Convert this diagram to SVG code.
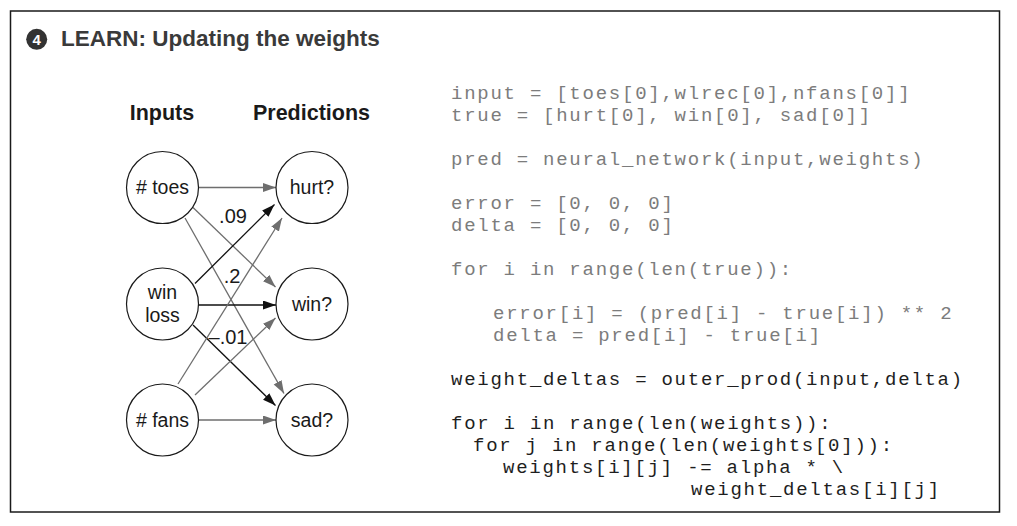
<svg xmlns="http://www.w3.org/2000/svg" width="1017" height="526" viewBox="0 0 1017 526">
<defs>
<style>
.frame{fill:#fff;stroke:#1a1a1a;stroke-width:1.5}
.title{font-family:"Liberation Sans",Arial,sans-serif;font-weight:bold;font-size:22.5px;fill:#3a3a3a}
.head{font-family:"Liberation Sans",Arial,sans-serif;font-weight:bold;font-size:21.5px;fill:#1a1a1a}
.node circle{fill:#fff;stroke:#1a1a1a;stroke-width:1.2}
.node text{font-family:"Liberation Sans",Arial,sans-serif;font-size:19.5px;fill:#1a1a1a;text-anchor:middle}
.wt{font-family:"Liberation Sans",Arial,sans-serif;font-size:20px;fill:#1a1a1a;text-anchor:middle}
.g{stroke:#6e6e6e;stroke-width:1.3;fill:none;marker-end:url(#ag)}
.k{stroke:#111;stroke-width:1.3;fill:none;marker-end:url(#ak)}
.code{font-family:"Liberation Mono","Courier New",monospace;font-size:19px;letter-spacing:1.75px;white-space:pre}
.dim{fill:#7c7c7c}
.dark{fill:#1e1e1e}
</style>
<marker id="ag" markerUnits="userSpaceOnUse" markerWidth="14" markerHeight="10" refX="13" refY="4.5" orient="auto"><path d="M0,0 L13,4.5 L0,9 z" fill="#6e6e6e"/></marker>
<marker id="ak" markerUnits="userSpaceOnUse" markerWidth="14" markerHeight="10" refX="13" refY="4.5" orient="auto"><path d="M0,0 L13,4.5 L0,9 z" fill="#111"/></marker>
</defs>
<rect x="0" y="0" width="1017" height="526" fill="#fff"/>
<rect class="frame" x="10.5" y="11" width="989" height="501"/>
<g id="title">
<circle cx="36.7" cy="39.3" r="10.5" fill="#333"/>
<text x="36.7" y="44.8" font-family="Liberation Sans,Arial,sans-serif" font-weight="bold" font-size="15" fill="#fff" text-anchor="middle">4</text>
<text class="title" x="61" y="46">LEARN: Updating the weights</text>
</g>
<text class="head" x="162" y="120" text-anchor="middle">Inputs</text>
<text class="head" x="311.5" y="120" text-anchor="middle">Predictions</text>
<g id="connectors">
<line class="g" x1="199" y1="187.5" x2="276" y2="187.5"/>
<line class="g" x1="193" y1="207.5" x2="275.5" y2="287"/>
<line class="g" x1="185" y1="218" x2="284" y2="393.5"/>
<line class="k" x1="195" y1="283.5" x2="274.5" y2="204.5"/>
<line class="k" x1="198.5" y1="305" x2="276" y2="305"/>
<line class="k" x1="193" y1="325" x2="275.5" y2="405.5"/>
<line class="g" x1="178" y1="384" x2="282" y2="218"/>
<line class="g" x1="195" y1="395" x2="275.5" y2="318"/>
<line class="g" x1="198.5" y1="420" x2="276" y2="420"/>
</g>
<g id="weights">
<text class="wt" x="233" y="223">.09</text>
<text class="wt" x="232" y="283">.2</text>
<text class="wt" x="228" y="344">–.01</text>
</g>
<g id="n-toes" class="node"><circle cx="162.5" cy="187.5" r="36"/><text x="162.5" y="194">#&#160;toes</text></g>
<g id="n-winloss" class="node"><circle cx="162.5" cy="304" r="36"/><text x="162.5" y="299">win</text><text x="162.5" y="322">loss</text></g>
<g id="n-fans" class="node"><circle cx="162.5" cy="420" r="36"/><text x="162.5" y="427">#&#160;fans</text></g>
<g id="n-hurt" class="node"><circle cx="312" cy="187.5" r="36"/><text x="312" y="194">hurt?</text></g>
<g id="n-win" class="node"><circle cx="312" cy="304" r="36"/><text x="312" y="311">win?</text></g>
<g id="n-sad" class="node"><circle cx="312" cy="420" r="36"/><text x="312" y="427">sad?</text></g>
<g id="code" class="code">
<text class="dim" x="451" y="99">input = [toes[0],wlrec[0],nfans[0]]</text>
<text class="dim" x="451" y="121">true = [hurt[0], win[0], sad[0]]</text>
<text class="dim" x="451" y="165">pred = neural_network(input,weights)</text>
<text class="dim" x="451" y="209">error = [0, 0, 0]</text>
<text class="dim" x="451" y="231">delta = [0, 0, 0]</text>
<text class="dim" x="451" y="275">for i in range(len(true)):</text>
<text class="dim" x="493" y="319">error[i] = (pred[i] - true[i]) ** 2</text>
<text class="dim" x="493" y="341">delta = pred[i] - true[i]</text>
<text class="dark" x="451" y="385">weight_deltas = outer_prod(input,delta)</text>
<text class="dark" x="451" y="429">for i in range(len(weights)):</text>
<text class="dark" x="473" y="451">for j in range(len(weights[0])):</text>
<text class="dark" x="503" y="473">weights[i][j] -= alpha * \</text>
<text class="dark" x="691" y="495">weight_deltas[i][j]</text>
</g>
</svg>
